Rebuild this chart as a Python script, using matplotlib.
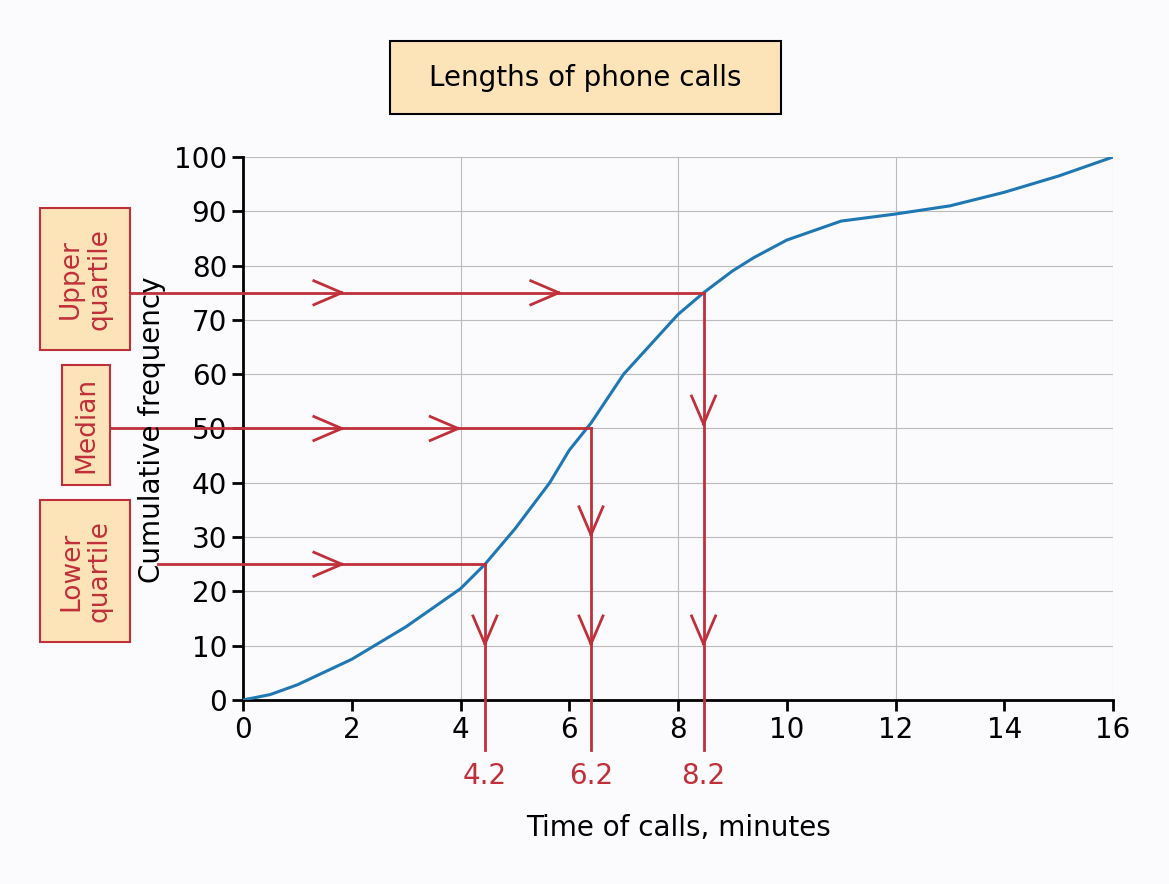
import matplotlib
matplotlib.use("Agg")
import matplotlib.pyplot as plt
from matplotlib.patches import Rectangle

curve_x = [0, 0.5, 1, 2, 3, 4, 4.45, 5, 5.64, 6, 6.4, 7, 8, 8.47, 9, 9.4, 10, 11, 12, 13, 14, 15, 16]
curve_y = [0, 1, 2.8, 7.5, 13.5, 20.5, 25, 31.5, 40, 46, 51, 60, 71, 75, 79, 81.5, 84.7, 88.2, 89.5, 91, 93.5, 96.5, 100]
quart_names = ["Lower\nquartile", "Median", "Upper\nquartile"]
quart_y = [25, 50, 75]
quart_xpos = [4.45, 6.4, 8.47]
quart_labels = ["4.2", "6.2", "8.2"]

RED = "#c0303a"; BLUE = "#1f77b4"; FILL = "#fde3b8"
W, H = 1169, 884
fig = plt.figure(figsize=(W/100, H/100), dpi=100, facecolor="#fbfbfd")
ax = fig.add_axes([243/W, 1-700/H, (1113-243)/W, (700-157)/H])
ax.set_facecolor("#fbfbfd")
ax.set_xlim(0, 16); ax.set_ylim(0, 100)
ax.set_xticks(range(0, 17, 2)); ax.set_yticks(range(0, 101, 10))
for s in ["top", "right"]:
    ax.spines[s].set_visible(False)
for s in ["left", "bottom"]:
    ax.spines[s].set_linewidth(2)
ax.tick_params(labelsize=20, width=2, length=8)
for v in range(10, 101, 10):
    ax.axhline(v, color="#bbbbbb", lw=0.8, zorder=0)
for v in [4, 8, 12, 16]:
    ax.axvline(v, color="#bbbbbb", lw=0.8, zorder=0)

ax.plot(curve_x, curve_y, color=BLUE, lw=2.2, zorder=3)

PX = (1113-243)/16.0   # pixels per x unit
PY = (700-157)/100.0   # pixels per y unit

def pix2x(p): return (p-243)/PX
def pix2y(p): return (700-p)/PY

def chevron(x, y, d):
    L, Wd = 28, 12
    if d == "right":
        for s in (1, -1):
            ax.plot([x - L/PX, x], [y + s*Wd/PY, y], color=RED, lw=2, clip_on=False, zorder=4)
    else:
        for s in (1, -1):
            ax.plot([x + s*Wd/PX, x], [y + L/PY, y], color=RED, lw=2, clip_on=False, zorder=4)

box_left = [pix2x(158), pix2x(110), pix2x(130)]
hchev = [[1.56], [1.56, 3.7], [1.56, 5.55]]
vchev = [[12.9], [12.9, 33], [12.9, 53.4]]
ybot = pix2y(750)
for i in range(3):
    qx, qy = quart_xpos[i], quart_y[i]
    ax.plot([box_left[i], qx], [qy, qy], color=RED, lw=2, clip_on=False, zorder=4)
    ax.plot([qx, qx], [qy, ybot], color=RED, lw=2, clip_on=False, zorder=4)
    for hx in hchev[i]:
        chevron(hx + 14/PX, qy, "right")
    for vy in vchev[i]:
        chevron(qx, vy - 14/PY, "down")
    ax.text(qx, pix2y(776), quart_labels[i], color=RED, fontsize=20, ha="center", va="center", clip_on=False)

boxes = [(40, 500, 130, 642), (62, 365, 110, 485), (40, 208, 130, 350)]
for i, (x0, y0, x1, y1) in enumerate(boxes):
    fig.patches.append(Rectangle((x0/W, 1-y1/H), (x1-x0)/W, (y1-y0)/H, transform=fig.transFigure,
                                 facecolor=FILL, edgecolor=RED, lw=1.5, zorder=1))
    fig.text((x0+x1)/2/W, 1-(y0+y1)/2/H, quart_names[i], rotation=90, color=RED, fontsize=19,
             ha="center", va="center", linespacing=1.1, zorder=2)

fig.patches.append(Rectangle((390/W, 1-114/H), 391/W, 73/H, transform=fig.transFigure,
                             facecolor=FILL, edgecolor="black", lw=1.5))
fig.text(585/W, 1-78/H, "Lengths of phone calls", fontsize=20, ha="center", va="center")
fig.text(152/W, 1-430/H, "Cumulative frequency", rotation=90, fontsize=20, ha="center", va="center")
fig.text(678/W, 1-828/H, "Time of calls, minutes", fontsize=20, ha="center", va="center")

fig.savefig("out.png", dpi=100, facecolor=fig.get_facecolor())
